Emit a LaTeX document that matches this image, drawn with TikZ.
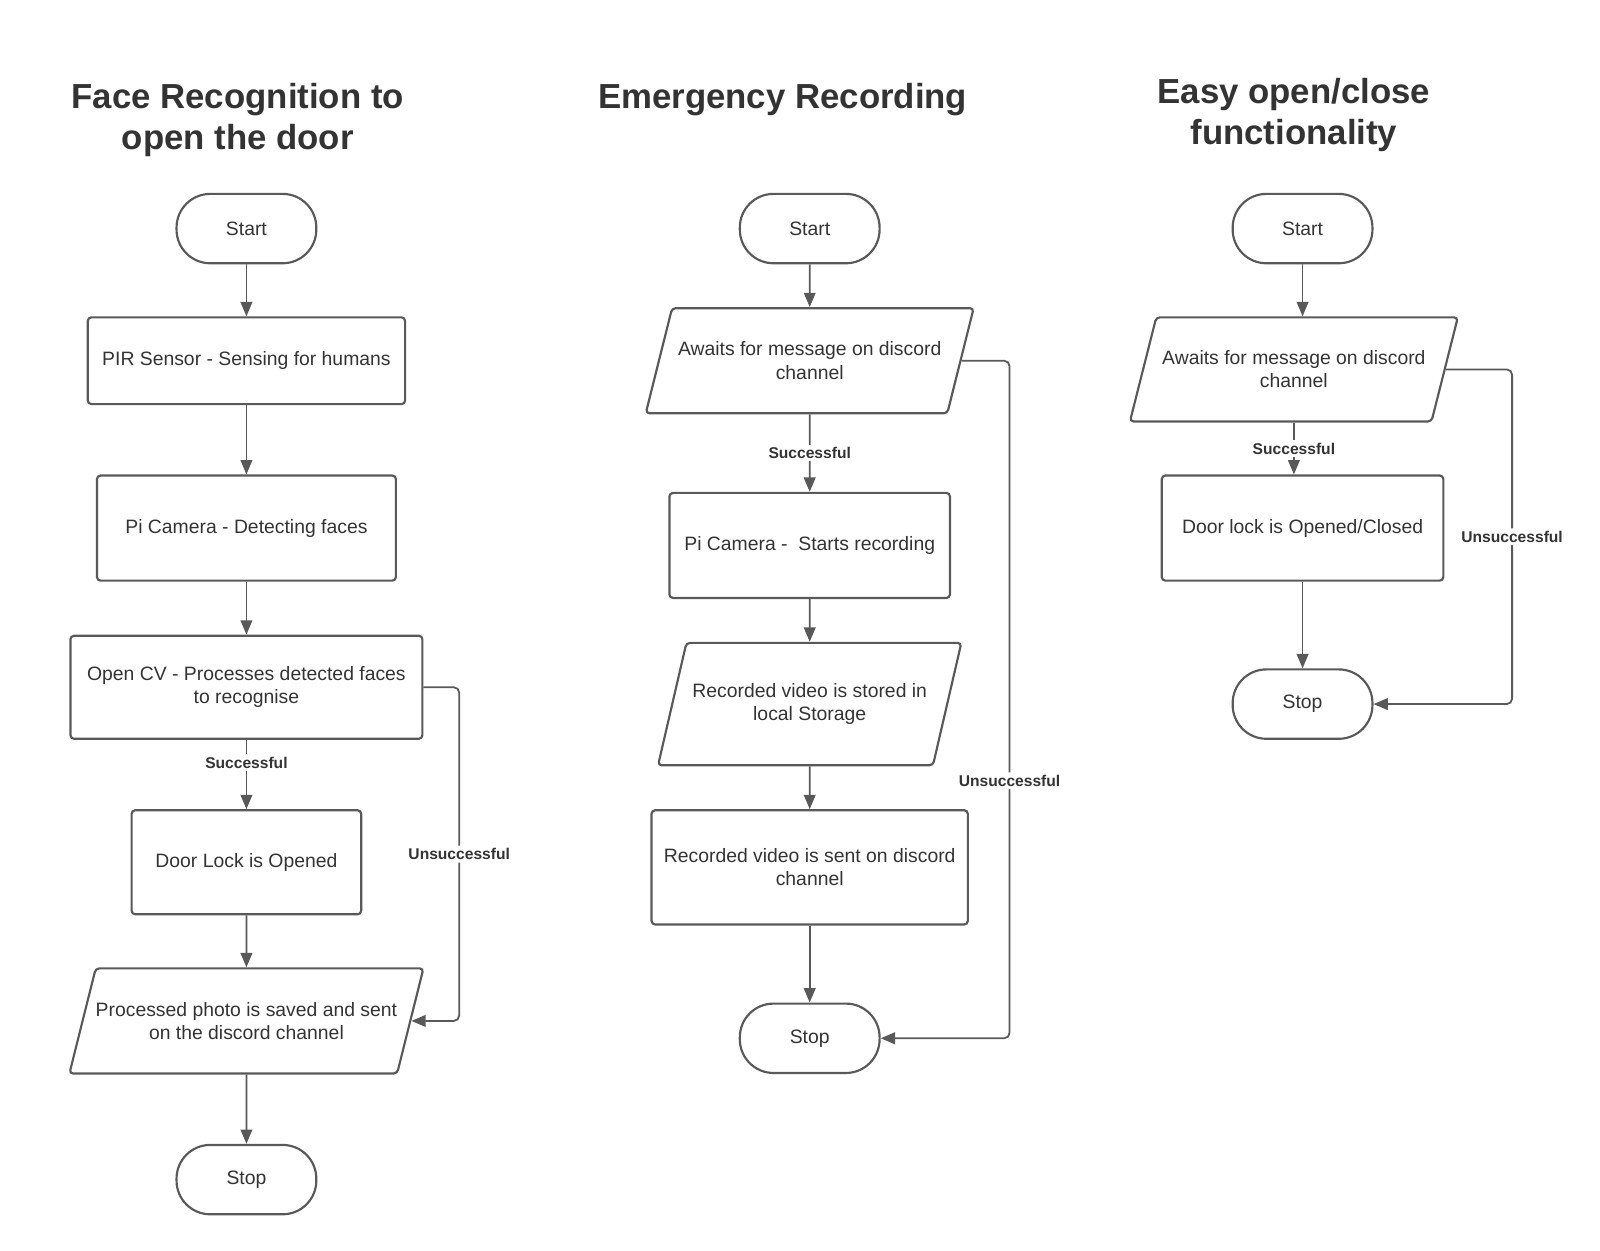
\documentclass[tikz,border=0pt]{standalone}
\usepackage{fontspec}
\setmainfont{Liberation Sans}
\usetikzlibrary{shapes.geometric,arrows.meta}
\definecolor{ln}{HTML}{595959}
\definecolor{tx}{HTML}{333333}
\begin{document}
\begin{tikzpicture}[x=0.02cm,y=-0.02cm,
    every node/.style={text=tx},
    term/.style={draw=ln,line width=1.2pt,rounded corners=0.66cm,minimum width=2.74cm,minimum height=1.36cm,font=\fontsize{10.8}{13}\selectfont},
    proc/.style={draw=ln,line width=1.2pt,rounded corners=2pt,align=center,font=\fontsize{10.8}{13}\selectfont},
    io/.style={proc,trapezium,trapezium left angle=62,trapezium right angle=118,trapezium stretches=true},
    ttl/.style={align=center,font=\fontsize{19.4}{23.2}\selectfont\bfseries},
    lbl/.style={fill=white,inner sep=1.5pt,font=\fontsize{8.7}{10}\selectfont\bfseries},
    arr/.style={draw=ln,line width=1pt,-{Triangle[length=8pt,width=6.5pt]}}]
    \useasboundingbox (0,0) rectangle (1568,1225);

    \node[ttl] (title1) at (233,117.5) {Face Recognition to\\open the door};
    \node[ttl] (title2) at (767,98) {Emergency Recording};
    \node[ttl] (title3) at (1268,112.5) {Easy open/close\\functionality};

    \node[term] (start1) at (241.5,224) {Start};
    \node[proc,minimum width=6.22cm,minimum height=1.70cm] (pir) at (241.5,353.5) {PIR Sensor - Sensing for humans};
    \node[proc,minimum width=5.86cm,minimum height=2.06cm] (cam1) at (241.5,517.5) {Pi Camera - Detecting faces};
    \node[proc,minimum width=6.90cm,minimum height=2.02cm] (cv) at (241.5,673.5) {Open CV - Processes detected faces\\to recognise};
    \node[proc,minimum width=4.50cm,minimum height=2.04cm] (door1) at (241.5,845) {Door Lock is Opened};
    \node[io,inner xsep=0pt,minimum width=6.50cm,minimum height=2.06cm] (save) at (241.5,1000.5) {Processed photo is saved and sent\\on the discord channel};
    \node[term] (stop1) at (241.5,1156) {Stop};

    \draw[arr] (start1) -- (pir);
    \draw[arr] (pir) -- (cam1);
    \draw[arr] (cam1) -- (cv);
    \draw[arr] (cv) -- node[lbl,pos=0.33] {Successful} (door1);
    \draw[arr] (door1) -- (save);
    \draw[arr] (save) -- (stop1);
    \draw[arr,rounded corners=3pt] (cv.east) -- ++(35,0) |- node[lbl,pos=0.25] {Unsuccessful} (save.east);

    \node[term] (start2) at (793.5,224) {Start};
    \node[io,minimum width=6.16cm,minimum height=2.06cm] (await2) at (793.5,353.5) {Awaits for message on discord\\channel};
    \node[proc,minimum width=5.50cm,minimum height=2.06cm] (cam2) at (793.5,534.5) {Pi Camera -\ \ Starts recording};
    \node[io,minimum width=5.90cm,minimum height=2.40cm] (store) at (793.5,690) {Recorded video is stored in\\local Storage};
    \node[proc,minimum width=6.20cm,minimum height=2.24cm] (send) at (793.5,850) {Recorded video is sent on discord\\channel};
    \node[term] (stop2) at (793.5,1017.5) {Stop};

    \draw[arr] (start2) -- (await2);
    \draw[arr] (await2) -- node[lbl] {Successful} (cam2);
    \draw[arr] (cam2) -- (store);
    \draw[arr] (store) -- (send);
    \draw[arr] (send) -- (stop2);
    \draw[arr,rounded corners=3pt] (await2.east) -- ++(47,0) |- node[lbl,pos=0.31] {Unsuccessful} (stop2.east);

    \node[term] (start3) at (1276.5,224) {Start};
    \node[io,minimum width=6.16cm,minimum height=2.04cm] (await3) at (1268,362) {Awaits for message on discord\\channel};
    \node[proc,minimum width=5.52cm,minimum height=2.06cm] (door3) at (1276.5,517.5) {Door lock is Opened/Closed};
    \node[term] (stop3) at (1276.5,690) {Stop};

    \draw[arr] (start3) -- (start3 |- await3.north);
    \draw[arr] (await3.south) -- node[lbl] {Successful} (await3.south |- door3.north);
    \draw[arr] (door3) -- (stop3);
    \draw[arr,rounded corners=3pt] (await3.east) -- ++(65,0) |- node[lbl,pos=0.25] {Unsuccessful} (stop3.east);
\end{tikzpicture}
\end{document}
